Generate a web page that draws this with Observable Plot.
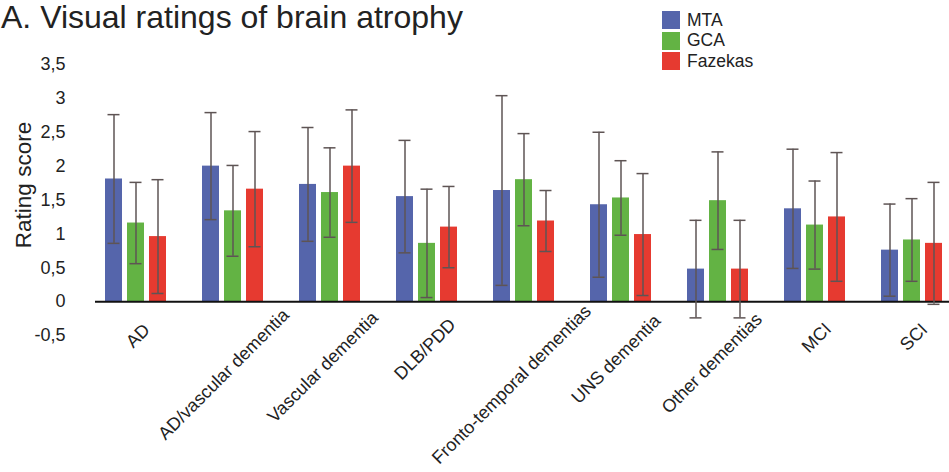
<!DOCTYPE html>
<html>
<head>
<meta charset="utf-8">
<script src="https://cdn.jsdelivr.net/npm/d3@7"></script>
<script src="https://cdn.jsdelivr.net/npm/@observablehq/plot@0.6"></script>
<style>
  html, body { margin: 0; padding: 0; background: #fff; }
  #wrap { position: relative; width: 949px; height: 472px; overflow: hidden; font-family: "Liberation Sans", Arial, sans-serif; color: #222; }
  #title { position: absolute; left: 1px; top: 0px; font-size: 32px; line-height: 1.1; white-space: nowrap; color: #222; }
  #legend { position: absolute; left: 662px; top: 10px; }
  .lg { display: flex; align-items: center; height: 20.5px; font-size: 17.5px; }
  .sw { width: 18px; height: 18px; margin-right: 7px; }
  svg { display: block; }
</style>
</head>
<body>
<div id="wrap">
  <div id="chart"></div>
  <div id="title">A. Visual ratings of brain atrophy</div>
  <div id="legend"></div>
</div>
<script>
const categories = ["AD", "AD/vascular dementia", "Vascular dementia", "DLB/PDD", "Fronto-temporal dementias", "UNS dementia", "Other dementias", "MCI", "SCI"];
const series = ["MTA", "GCA", "Fazekas"];
const colors = ["#5565ab", "#63b344", "#e63a30"];

const mtaMean = [1.81, 2.00, 1.73, 1.55, 1.64, 1.43, 0.48, 1.37, 0.76];
const mtaSD   = [0.95, 0.79, 0.84, 0.83, 1.40, 1.07, 0.72, 0.88, 0.68];
const gcaMean = [1.16, 1.34, 1.61, 0.86, 1.80, 1.53, 1.49, 1.13, 0.91];
const gcaSD   = [0.60, 0.67, 0.66, 0.80, 0.68, 0.55, 0.72, 0.65, 0.61];
const fazMean = [0.96, 1.66, 2.00, 1.10, 1.19, 0.99, 0.48, 1.25, 0.86];
const fazSD   = [0.84, 0.85, 0.83, 0.60, 0.45, 0.90, 0.72, 0.95, 0.90];

const yTicks = [-0.5, 0, 0.5, 1, 1.5, 2, 2.5, 3, 3.5];
const yTickLabels = ["-0,5", "0", "0,5", "1", "1,5", "2", "2,5", "3", "3,5"];

const means = [mtaMean, gcaMean, fazMean];
const sds = [mtaSD, gcaSD, fazSD];
const rows = [];
series.forEach((s, k) => categories.forEach((c, i) => {
  rows.push({category: c, series: s, k, mean: means[k][i], lo: means[k][i] - sds[k][i], hi: means[k][i] + sds[k][i]});
}));

const step = 22;       // bar spacing inside a group
const errColor = "#5e5454";
const labelFont = 18;

// measure label widths (at a 17px reference size) for placement of rotated labels
const ctx = document.createElement("canvas").getContext("2d");
ctx.font = `17px "Liberation Sans", Arial, sans-serif`;

const marks = [];
series.forEach((s, k) => {
  const data = rows.filter(d => d.series === s);
  const dx = (k - 1) * step;
  marks.push(Plot.barY(data, {x: "category", y1: 0, y2: "mean", fill: "series", dx}));
});
marks.push(Plot.ruleY([0], {stroke: "#111", strokeWidth: 2}));
series.forEach((s, k) => {
  const data = rows.filter(d => d.series === s);
  const dx = (k - 1) * step;
  marks.push(Plot.ruleX(data, {x: "category", y1: "lo", y2: "hi", dx, stroke: errColor, strokeWidth: 1.5}));
  marks.push(Plot.tickY(data, {x: "category", y: "hi", dx, insetLeft: 2.5, insetRight: 2.5, stroke: errColor, strokeWidth: 1.5}));
  marks.push(Plot.tickY(data, {x: "category", y: "lo", dx, insetLeft: 2.5, insetRight: 2.5, stroke: errColor, strokeWidth: 1.5}));
});
marks.push(Plot.axisY({
  ticks: yTicks,
  tickFormat: v => yTickLabels[yTicks.indexOf(v)],
  tickSize: 0, tickPadding: 30, fontSize: 18, label: null, fill: "#222"
}));
marks.push(Plot.text(["Rating score"], {
  frameAnchor: "left", text: d => d, rotate: -90, textAnchor: "middle", lineAnchor: "middle",
  fontSize: 22.5, dx: -72, dy: -15, fill: "#222"
}));
categories.forEach(c => {
  const w = ctx.measureText(c).width;
  marks.push(Plot.text([c], {
    x: d => d, text: d => d, frameAnchor: "bottom", rotate: -45,
    textAnchor: "middle", lineAnchor: "middle", fontSize: labelFont, fill: "#222",
    dx: 4 - 0.08 * w, dy: 0.27 * w - 6
  }));
});

const chart = Plot.plot({
  width: 949,
  height: 472,
  marginLeft: 95,
  marginRight: 0,
  marginTop: 64,
  marginBottom: 137,
  style: {fontFamily: '"Liberation Sans", Arial, sans-serif', color: "#222", background: "transparent"},
  x: {type: "band", domain: categories, range: [123.5, 923.5], paddingInner: 0.826, paddingOuter: 0, axis: null},
  y: {domain: [-0.5, 3.5], axis: null},
  color: {domain: series, range: colors},
  marks
});
document.getElementById("chart").appendChild(chart);

const legend = document.getElementById("legend");
series.forEach((s, k) => {
  const row = document.createElement("div");
  row.className = "lg";
  row.innerHTML = `<div class="sw" style="background:${colors[k]}"></div><span>${s}</span>`;
  legend.appendChild(row);
});
</script>
</body>
</html>
